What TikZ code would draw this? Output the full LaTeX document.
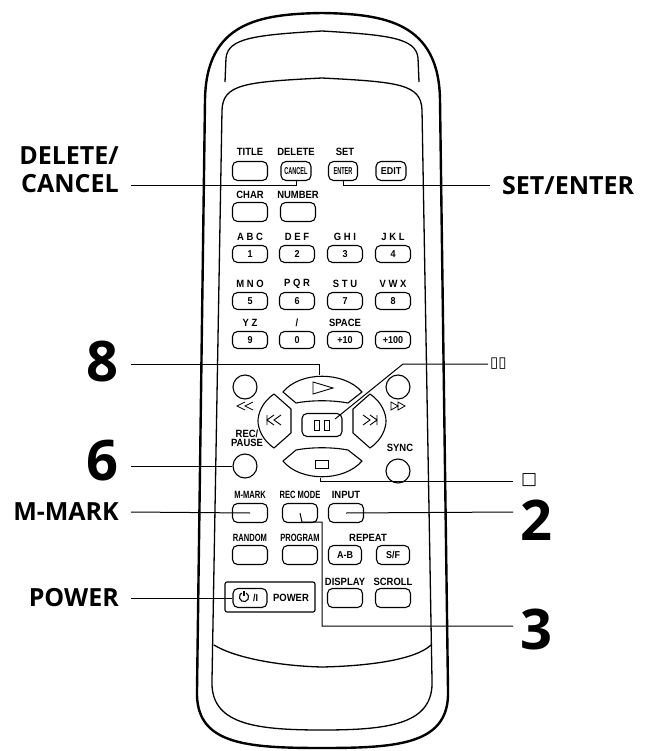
\documentclass[tikz,border=0pt]{standalone}
\usepackage{fontspec}
\setmainfont{Open Sans}
\newfontfamily\btnfont[FakeStretch=0.9]{Liberation Sans}
\newfontfamily\symfont{DejaVu Sans}
\begin{document}
\begin{tikzpicture}[x=1pt,y=-1pt,
  body/.style={line width=2.4pt,line join=round},
  shell/.style={line width=1.3pt},
  btn/.style={draw,line width=1.1pt,rounded corners=5pt,minimum width=35pt,minimum height=19pt,inner sep=0pt,font=\btnfont\bfseries\fontsize{10}{10}\selectfont},
  nbtn/.style={btn,minimum height=17pt},
  lbl/.style={font=\btnfont\bfseries\fontsize{10.5}{10.5}\selectfont,inner sep=0pt},
  callout/.style={font=\bfseries\fontsize{25}{28}\selectfont,inner sep=0pt,align=right,anchor=east},
  bignum/.style={font=\bfseries\fontsize{56}{56}\selectfont,inner sep=0pt},
  lead/.style={line width=1pt},
  key/.style={draw,line width=1.1pt,line join=round}]
\useasboundingbox (0,0) rectangle (654,751);
% body
\draw[body] (205,100) .. controls (206,22) and (260,14) .. (322,13) .. controls (384,14) and (439,22) .. (440,100) -- (448,690) .. controls (450,744) and (400,748) .. (322,748) .. controls (244,748) and (195,744) .. (197,690) -- cycle;
\draw[shell] (225,82) -- (226,58) .. controls (228,38) and (255,35) .. (322,31) .. controls (389,35) and (416,38) .. (418,58) -- (419,82);
\draw[shell] (222,110) .. controls (223,84) and (245,82) .. (322,78) .. controls (399,82) and (421,84) .. (422,110) -- (432,680) .. controls (434,724) and (390,730) .. (322,730) .. controls (254,730) and (210,724) .. (212,680) -- cycle;
\draw[shell] (214,645) .. controls (235,658) and (280,666) .. (322,667) .. controls (368,666) and (415,660) .. (431,645);
% row 1
\node[lbl] at (250,152) {TITLE};
\node[lbl] at (296,152) {DELETE};
\node[lbl] at (345,152) {SET};
\node[btn] (title) at (250,171) {};
\node[btn,minimum width=30pt] (cancel) at (296,171) {\scalebox{0.62}[1]{CANCEL}};
\node[btn,minimum width=29pt] (enter) at (343,171) {\scalebox{0.62}[1]{ENTER}};
\node[btn,minimum width=30pt] (edit) at (391,171) {EDIT};
% row 2
\node[lbl] at (250,195) {CHAR};
\node[lbl] at (298,195) {NUMBER};
\node[btn] (char) at (250,212) {};
\node[btn] (number) at (298,212) {};
% numbers
\foreach \t/\n/\x/\y in {A B C/1/250/237, D E F/2/297/237, G H I/3/345/237, J K L/4/393/237,
  M N O/5/250/284, P Q R/6/297/284, S T U/7/345/284, V W X/8/393/284}{
  \node[lbl] at (\x,\y) {\t};
  \node[nbtn] (n\n) at (\x,\y+17) {\n};
}
\node[lbl] at (250,323) {Y Z};
\node[lbl] at (297,323) {/};
\node[lbl] at (345,323) {SPACE};
\node[nbtn] (n9) at (250,340) {9};
\node[nbtn] (n0) at (297,340) {0};
\node[nbtn] (p10) at (345,340) {+10};
\node[nbtn] (p100) at (393,340) {+100};
% transport
\draw[key] (283,392) .. controls (300,371) and (344,371) .. (362,392) -- (348,403) .. controls (332,400) and (312,400) .. (296,403) -- cycle;
\coordinate (play) at (319,375);
\draw[line width=0.9pt] (313,382) -- (333,388) -- (313,394) -- cycle;
\draw[key] (296,450) .. controls (312,447) and (332,447) .. (348,450) -- (362,461) .. controls (344,482) and (300,482) .. (283,461) -- cycle;
\draw[line width=0.9pt] (315,460) rectangle (328,468);
\coordinate (stop) at (320,478);
\draw[key] (274,394) -- (291,409) -- (291,433) -- (274,448) .. controls (262,440) and (258,428) .. (258,421) .. controls (258,414) and (262,402) .. (274,394) -- cycle;
\draw[key] (370,394) -- (353,409) -- (353,433) -- (370,448) .. controls (382,440) and (386,428) .. (386,421) .. controls (386,414) and (382,402) .. (370,394) -- cycle;
\node[btn,minimum width=40pt,minimum height=23pt] (pause) at (322,425) {};
\draw[line width=0.9pt] (314,420) rectangle (319,430) (324,420) rectangle (329,430);
\draw[line width=0.9pt] (267,415) -- (267,425) (281,415) -- (274,420) -- (281,425) (274,415) -- (267,420) -- (274,425);
\draw[line width=0.9pt] (377,415) -- (377,425) (363,415) -- (370,420) -- (363,425) (370,415) -- (377,420) -- (370,425);
\node[draw,circle,line width=1.1pt,minimum size=24pt,inner sep=0pt] (rew) at (245,387) {};
\node[draw,circle,line width=1.1pt,minimum size=24pt,inner sep=0pt] (ff) at (398,387) {};
\draw[line width=0.8pt] (253,402) -- (245,406) -- (253,410) (245,402) -- (237,406) -- (245,410);
\draw[line width=0.8pt] (391,402) -- (398,406) -- (391,410) -- cycle (398,402) -- (405,406) -- (398,410) -- cycle;
\node[lbl,align=center] at (247,438) {REC/\\[-1.5pt]PAUSE};
\node[lbl] at (400,448) {SYNC};
\node[draw,circle,line width=1.1pt,minimum size=24pt,inner sep=0pt] (rec) at (245,466) {};
\node[draw,circle,line width=1.1pt,minimum size=24pt,inner sep=0pt] (sync) at (398,471) {};
% lower rows
\node[lbl] at (250,495) {\scalebox{0.8}[1]{M-MARK}};
\node[lbl] at (300,495) {\scalebox{0.8}[1]{REC MODE}};
\node[lbl] at (346,495) {INPUT};
\node[btn] (mmark) at (250,513) {};
\node[btn] (recmode) at (300,513) {};
\node[btn] (input) at (346,513) {};
\node[lbl] at (250,538) {\scalebox{0.8}[1]{RANDOM}};
\node[lbl] at (300,538) {\scalebox{0.8}[1]{PROGRAM}};
\node[lbl] at (368,538) {REPEAT};
\node[btn] (rand) at (250,555) {};
\node[btn] (prog) at (300,555) {};
\node[btn,minimum width=33pt] (ab) at (345,555) {A-B};
\node[btn,minimum width=33pt] (sf) at (393,555) {S/F};
\draw[line width=1.1pt,rounded corners=2pt] (225,582) rectangle (315,612);
\node[btn,minimum width=34pt] (power) at (250,598) {\hspace{11pt}/I};
\coordinate (pwc) at ([xshift=-6pt,yshift=1pt]power.center);
\draw[line width=1.1pt] (pwc) ++(0,-6) -- ++(0,5);
\draw[line width=1.1pt] (pwc) ++(300:4.6) arc[start angle=300,end angle=600,radius=4.6];
\node[lbl] at (291,598) {POWER};
\node[lbl] at (345,582) {DISPLAY};
\node[lbl] at (393,582) {SCROLL};
\node[btn] (disp) at (345,598) {};
\node[btn] (scroll) at (393,598) {};
% callouts
\node[callout] (tDel) at (119,170) {DELETE/\\CANCEL};
\node[callout,anchor=west] (tSet) at (502,186) {SET/ENTER};
\node[bignum,anchor=east] (t8) at (119,362) {8};
\node[bignum,anchor=east] (t6) at (119,461) {6};
\node[callout] (tMm) at (119,512) {M-MARK};
\node[callout] (tPow) at (119,598) {POWER};
\node[anchor=west,inner sep=0pt,font=\symfont\fontsize{15}{15}\selectfont] (tPause) at (490,364) {▯▯};
\node[anchor=west,inner sep=0pt,font=\symfont\fontsize{17}{17}\selectfont] (tStop) at (521,480) {□};
\node[bignum,anchor=west] (t2) at (520,520) {2};
\node[bignum,anchor=west] (t3) at (520,629) {3};
\coordinate (pauseTip) at (335,419);
\draw[lead] (131,186) -- (cancel.south |- 0,186) -- (cancel.south);
\draw[lead] (enter.south) -- (enter.south |- 0,186) -- (490,186);
\draw[lead] (131,364) -- (play |- 0,364) -- (play);
\draw[lead] (pauseTip) -- (403,364) -- (488,364);
\draw[lead] (131,466) -- (rec.west);
\draw[lead] (stop) -- (320,481) -- (513,481);
\draw[lead] (131,512) -- (mmark.center);
\draw[lead] (input.center) -- (513,512);
\draw[lead] (recmode.center) -- (302,522) -- (322,522) -- (322,626) -- (513,626);
\draw[lead] (131,598) -- (power.west);
\end{tikzpicture}
\end{document}
